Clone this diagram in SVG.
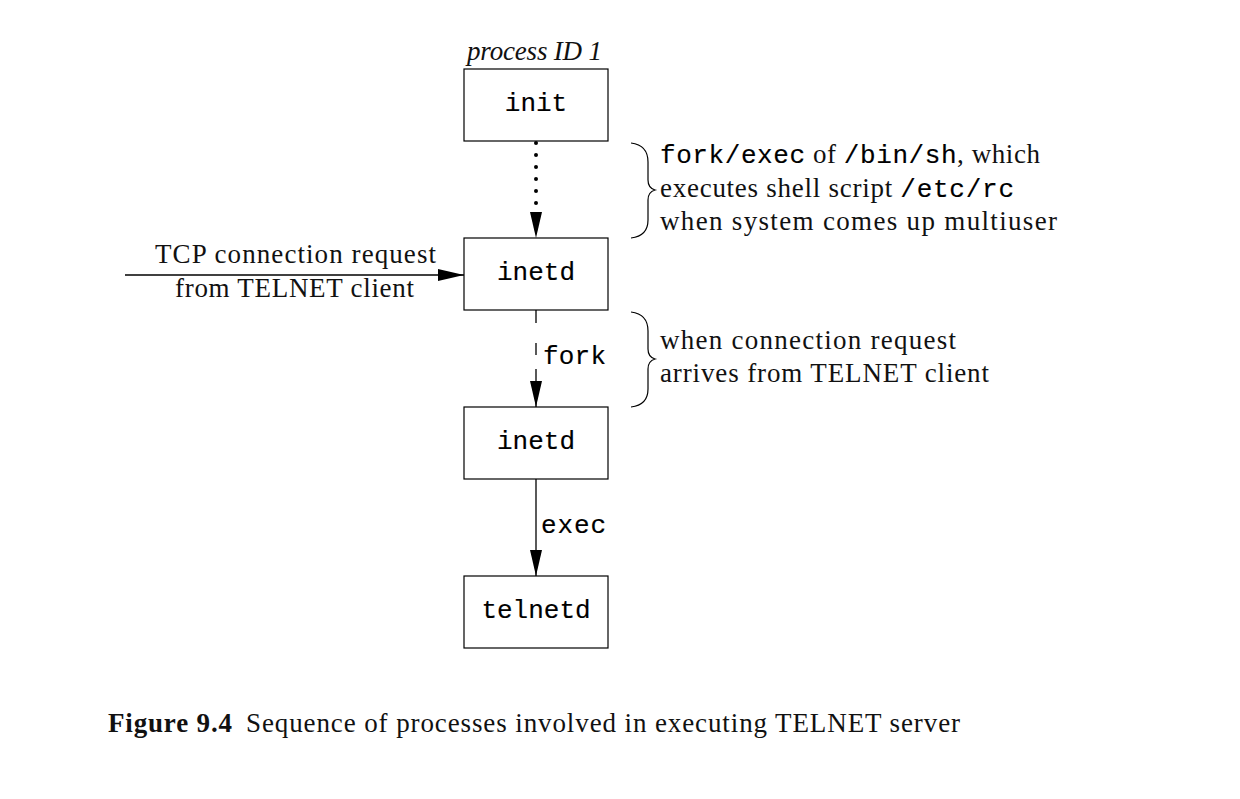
<svg xmlns="http://www.w3.org/2000/svg" width="1240" height="799" viewBox="0 0 1240 799">
<style>
.box{fill:#fff;stroke:#000;stroke-width:1.2}
.mono{font-family:"Liberation Mono","DejaVu Sans Mono",monospace;font-size:26px;fill:#000;stroke:#000;stroke-width:0.15}
.serif{font-family:"Liberation Serif","Times New Roman",serif;font-size:27px;fill:#111}
.ln{stroke:#000;fill:none}
.brace{stroke:#000;stroke-width:1.2;fill:none}
</style>
<defs>
<marker id="ahd" viewBox="0 0 26 12" refX="26" refY="6" markerWidth="26" markerHeight="12" orient="auto" markerUnits="userSpaceOnUse">
<path d="M0,0 L26,6 L0,12 Z" fill="#000"/>
</marker>
</defs>
<rect width="1240" height="799" fill="#fff"/>
<g id="connectors">
<line x1="536" y1="143" x2="536" y2="205" style="stroke:#000;stroke-width:4;stroke-linecap:round;stroke-dasharray:0 12"/>
<line x1="536" y1="205" x2="536" y2="238" style="stroke:none" marker-end="url(#ahd)"/>
<line class="ln" x1="125" y1="275" x2="464" y2="275" stroke-width="1.3" marker-end="url(#ahd)"/>
<line class="ln" x1="536" y1="310" x2="536" y2="407" stroke-width="1.3" stroke-dasharray="13 20 12 14 40" marker-end="url(#ahd)"/>
<line class="ln" x1="536" y1="479" x2="536" y2="576" stroke-width="1.3" marker-end="url(#ahd)"/>
<text class="mono" x="543" y="364" textLength="63">fork</text>
<text class="mono" x="541" y="533" textLength="65">exec</text>
<text class="serif" x="155" y="263" textLength="281">TCP connection request</text>
<text class="serif" x="175" y="297" textLength="239">from TELNET client</text>
</g>
<g id="init">
<text class="serif" x="467" y="60" font-style="italic" textLength="135">process ID 1</text>
<rect class="box" x="464" y="69" width="144" height="72"/>
<text class="mono" x="536" y="111" text-anchor="middle">init</text>
</g>
<g id="inetd1">
<rect class="box" x="464" y="238" width="144" height="72"/>
<text class="mono" x="536" y="280" text-anchor="middle">inetd</text>
</g>
<g id="inetd2">
<rect class="box" x="464" y="407" width="144" height="72"/>
<text class="mono" x="536" y="449" text-anchor="middle">inetd</text>
</g>
<g id="telnetd">
<rect class="box" x="464" y="576" width="144" height="72"/>
<text class="mono" x="536" y="618" text-anchor="middle">telnetd</text>
</g>
<g id="note1">
<path class="brace" d="M631,143 Q648,145 648,162 L648,180 Q648,188 655,190 Q648,192 648,200 L648,220 Q648,236 631,238"/>
<text class="serif" x="660" y="163" textLength="380"><tspan class="mono">fork/exec</tspan> of <tspan class="mono">/bin/sh</tspan>, which</text>
<text class="serif" x="660" y="197" textLength="354">executes shell script <tspan class="mono">/etc/rc</tspan></text>
<text class="serif" x="660" y="230" textLength="397">when system comes up multiuser</text>
</g>
<g id="note2">
<path class="brace" d="M631,312 Q648,314 648,331 L648,349 Q648,357 655,359 Q648,361 648,369 L648,389 Q648,405 631,407"/>
<text class="serif" x="660" y="349" textLength="296">when connection request</text>
<text class="serif" x="660" y="382" textLength="329">arrives from TELNET client</text>
</g>
<g id="caption">
<text class="serif" x="108" y="732" font-weight="bold" textLength="124">Figure 9.4</text>
<text class="serif" x="246" y="732" textLength="714">Sequence of processes involved in executing TELNET server</text>
</g>
</svg>
